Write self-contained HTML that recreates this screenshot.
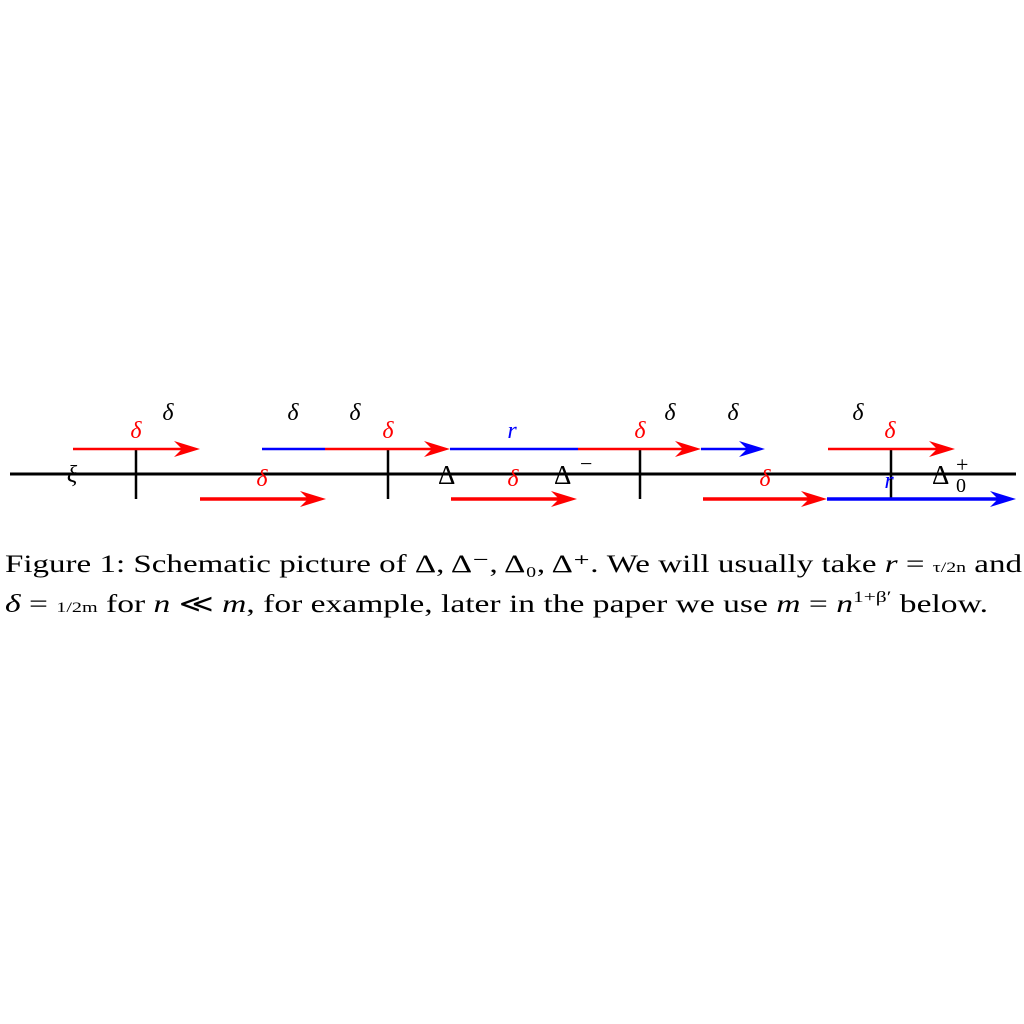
<!DOCTYPE html>
<html><head><meta charset="utf-8"><style>
html,body{margin:0;padding:0;background:#fff;width:1024px;height:1024px;overflow:hidden}
svg{display:block}
text{font-family:"Liberation Serif","DejaVu Serif",serif}
</style></head><body>
<svg width="1024" height="1024" viewBox="0 0 1024 1024">
<line x1="10" y1="474" x2="1016" y2="474" stroke="#000" stroke-width="3"/>
<g stroke="#000" stroke-width="2.5">
<line x1="136" y1="449" x2="136" y2="499"/><line x1="388" y1="449" x2="388" y2="499"/>
<line x1="640" y1="449" x2="640" y2="499"/><line x1="891" y1="449" x2="891" y2="499"/>
</g>
<g id="arrows"></g>
<g font-style="italic" font-size="24" text-anchor="middle">
<text x="136" y="438" fill="red">δ</text><text x="388" y="438" fill="red">δ</text>
<text x="640" y="438" fill="red">δ</text><text x="890" y="438" fill="red">δ</text>
<text x="512" y="438" fill="blue">r</text>
<text x="168" y="420">δ</text><text x="293" y="420">δ</text><text x="355" y="420">δ</text>
<text x="670" y="420">δ</text><text x="733" y="420">δ</text><text x="858" y="420">δ</text>
<text x="72" y="482">ξ</text>
<text x="262" y="486" fill="red">δ</text><text x="513" y="486" fill="red">δ</text><text x="765" y="486" fill="red">δ</text>
<text x="889" y="488" fill="blue">r</text>
</g>
<g font-family="'DejaVu Sans',sans-serif" font-size="27">
<text x="438" y="484" font-family="DejaVu Sans, sans-serif">Δ</text>
<text x="554" y="484" font-family="DejaVu Sans, sans-serif">Δ</text><text x="580" y="471" font-size="22">−</text>
<text x="932" y="484" font-family="DejaVu Sans, sans-serif">Δ</text><text x="956" y="472" font-size="22">+</text><text x="956" y="492" font-size="20" font-family="Liberation Serif, serif">0</text>
</g>
<g font-size="25">
<text x="5" y="572" textLength="1017" lengthAdjust="spacingAndGlyphs">Figure 1: Schematic picture of Δ, Δ⁻, Δ₀, Δ⁺. We will usually take <tspan font-style="italic">r</tspan> = <tspan font-size="15">τ/2n</tspan> and</text>
<text x="5" y="612" textLength="983" lengthAdjust="spacingAndGlyphs"><tspan font-style="italic">δ</tspan> = <tspan font-size="15">1/2m</tspan> for <tspan font-style="italic">n</tspan> ≪ <tspan font-style="italic">m</tspan>, for example, later in the paper we use <tspan font-style="italic">m</tspan> = <tspan font-style="italic">n</tspan><tspan font-size="16" dy="-10">1+β′</tspan><tspan dy="10"> below.</tspan></text>
</g>
</svg>
<script>
// segments: [x1, x2, y, color, hasHead]
const segX1=[73,262,325,450,578,701,828,200,451,703,827];
const segX2=[200,325,450,578,701,765,955,326,577,827,1016];
const segY=[449,449,449,449,449,449,449,499,499,499,499];
const segColor=["red","blue","red","blue","red","blue","red","red","red","red","blue"];
const segHead=[1,0,1,0,1,1,1,1,1,1,1];
const g=document.getElementById('arrows');
const NS='http://www.w3.org/2000/svg';
for(let i=0;i<segX1.length;i++){
  const head=segHead[i];
  const l=document.createElementNS(NS,'line');
  l.setAttribute('x1',segX1[i]);l.setAttribute('x2',segX2[i]-(head?8:0));
  l.setAttribute('y1',segY[i]);l.setAttribute('y2',segY[i]);
  l.setAttribute('stroke',segColor[i]);l.setAttribute('stroke-width',segY[i]>470?3.5:2.5);
  
  
  g.appendChild(l);
  if(head){
    const p=document.createElementNS(NS,'path');
    const x=segX2[i],y=segY[i];
    p.setAttribute('d',`M${x},${y} L${x-26},${y-8} L${x-18},${y} L${x-26},${y+8} Z`);
    p.setAttribute('fill',segColor[i]);
    
    
    g.appendChild(p);
  }
}
</script>
</body></html>
